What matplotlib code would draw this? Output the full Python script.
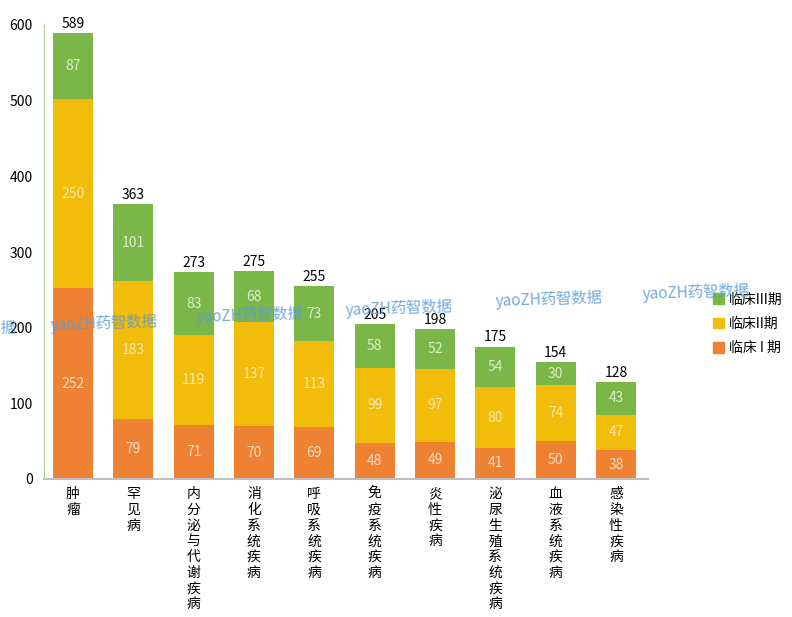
import matplotlib
matplotlib.use("Agg")
import matplotlib.pyplot as plt
import numpy as np
from matplotlib.patches import Patch

plt.rcParams['font.family'] = ['Noto Sans CJK SC', 'DejaVu Sans']

categories = ["肿瘤", "罕见病", "内分泌与代谢疾病", "消化系统疾病", "呼吸系统疾病",
              "免疫系统疾病", "炎性疾病", "泌尿生殖系统疾病", "血液系统疾病", "感染性疾病"]
phase1 = [252, 79, 71, 70, 69, 48, 49, 41, 50, 38]
phase2 = [250, 183, 119, 137, 113, 99, 97, 80, 74, 47]
phase3 = [87, 101, 83, 68, 73, 58, 52, 54, 30, 43]
totals = [589, 363, 273, 275, 255, 205, 198, 175, 154, 128]
legend_labels = ["临床 I 期", "临床II期", "临床III期"]
colors = ["#ef8232", "#f2bc0a", "#7ab648"]
yticks = [0, 100, 200, 300, 400, 500, 600]

fig = plt.figure(figsize=(7.92, 6.17), dpi=100)
ax = fig.add_axes([44/792, 1-479/617, (648-44)/792, (479-25)/617])

x = np.arange(len(categories))
w = 0.66
p1 = np.array(phase1); p2 = np.array(phase2); p3 = np.array(phase3)
ax.bar(x, p1, w, color=colors[0], zorder=2)
ax.bar(x, p2, w, bottom=p1, color=colors[1], zorder=2)
ax.bar(x, p3, w, bottom=p1+p2, color=colors[2], zorder=2)

lab_col = ["#f3dcc0", "#f7e7b0", "#dcefd0"]
for i in range(len(x)):
    ax.text(x[i], p1[i]/2, str(phase1[i]), ha='center', va='center', fontsize=10, color=lab_col[0], zorder=3)
    ax.text(x[i], p1[i]+p2[i]/2, str(phase2[i]), ha='center', va='center', fontsize=10, color=lab_col[1], zorder=3)
    ax.text(x[i], p1[i]+p2[i]+p3[i]/2, str(phase3[i]), ha='center', va='center', fontsize=10, color=lab_col[2], zorder=3)
    ax.text(x[i], totals[i]+3, str(totals[i]), ha='center', va='bottom', fontsize=10, color='black', zorder=3)

ax.set_xlim(-0.48, 9.53)
ax.set_ylim(0, 600)
ax.set_yticks(yticks)
ax.set_yticklabels([str(v) for v in yticks], fontsize=10)
ax.tick_params(axis='y', length=0, pad=8)
ax.set_xticks(x)
ax.set_xticklabels(["\n".join(c) for c in categories], fontsize=10, va='top', linespacing=1.15)
ax.tick_params(axis='x', length=0, pad=6)
for s in ['top', 'right']:
    ax.spines[s].set_visible(False)
ax.spines['left'].set_color('#a9d18e')
ax.spines['bottom'].set_color('#bfbfbf')
ax.spines['bottom'].set_linewidth(1.5)

handles = [Patch(color=colors[2]), Patch(color=colors[1]), Patch(color=colors[0])]
leg = fig.legend(handles, [legend_labels[2], legend_labels[1], legend_labels[0]],
                 loc='upper left', bbox_to_anchor=(700/792, 1-280/617), frameon=False,
                 fontsize=10, handlelength=0.8, handleheight=0.8, handletextpad=0.4,
                 labelspacing=0.75)

# watermarks
wm = "yaoZH药智数据"
fig.text(0/792, 1-328/617, "据", fontsize=11, color='#5b9bd5', alpha=0.85,
         rotation=2, ha='left', va='center', zorder=10)
for (px, py) in [(50, 323), (196, 315), (345, 308), (495, 299), (642, 292)]:
    fig.text(px/792, 1-py/617, wm, fontsize=11, color='#5b9bd5', alpha=0.85,
             rotation=2, ha='left', va='center', zorder=10)

fig.savefig("out.png", dpi=100)
